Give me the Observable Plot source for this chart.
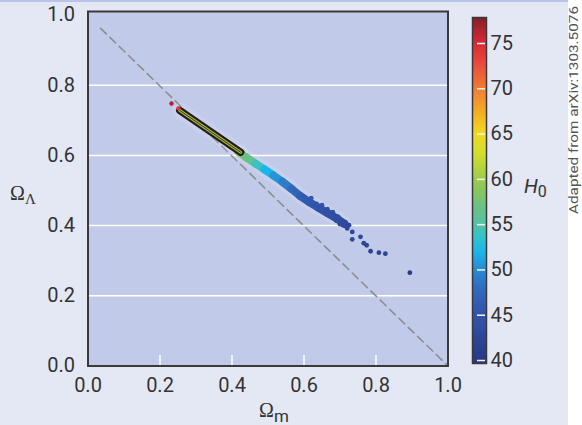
<!DOCTYPE html>
<html>
<head>
<meta charset="utf-8">
<script src="https://cdn.jsdelivr.net/npm/d3@7"></script>
<script src="https://cdn.jsdelivr.net/npm/@observablehq/plot@0.6"></script>
<style>
  html, body { margin: 0; padding: 0; background: #ffffff; }
  #wrap { position: relative; width: 582px; height: 425px; overflow: hidden; background: #ffffff; }
  #bg { position: absolute; left: 0; top: 0; width: 568px; height: 425px; background: #e4e8f5; border-top: 2px solid #b8c5e8; box-sizing: border-box; }
  #main, #cbar, #labels { position: absolute; top: 0; }
  #main { left: 0; }
  #cbar { left: 440px; }
  #labels { left: 0; pointer-events: none; }
</style>
</head>
<body>
<div id="wrap">
  <div id="bg"></div>
  <div id="main"></div>
  <div id="cbar"></div>
  <svg id="labels" width="582" height="425">
    <text x="259" y="417" font-family="Liberation Serif" font-size="20" fill="#333">Ω<tspan font-family="Roboto" font-size="17" dy="5">m</tspan></text>
    <text x="10" y="200" font-family="Liberation Serif" font-size="20" fill="#333">Ω<tspan font-size="15" dy="4">Λ</tspan></text>
    <text x="524" y="193" font-family="Roboto" font-style="italic" font-size="20" fill="#333">H<tspan font-style="normal" font-size="16" dy="4">0</tspan></text>
    <text transform="translate(578,214) rotate(-90)" font-family="Roboto" font-size="12.5" fill="#555" textLength="208" lengthAdjust="spacingAndGlyphs">Adapted from arXiv:1303.5076</text>
  </svg>
</div>
<script>
// ---- tick values ----
const xTicks = [0, 0.2, 0.4, 0.6, 0.8, 1.0];
const yTicks = [0, 0.2, 0.4, 0.6, 0.8, 1.0];
const gridY = [0.2, 0.4, 0.6, 0.8];
const xInnerTicks = [0.2, 0.4, 0.6, 0.8];
const cbTicks = [40, 45, 50, 55, 60, 65, 70, 75];

// ---- colour map for H0 ----
const h0Stops = [40, 42, 44, 46, 48, 50, 52, 53.5, 55, 57, 59, 61, 63, 65, 67, 69, 71, 73, 75, 76.5, 78];
const h0Colors = ["#293a86", "#2d4393", "#3050a6", "#3159b0", "#2e6ec0", "#2a8ad2", "#1ab6ea", "#32c2cc", "#55c2a4", "#6cc184", "#8cc85a", "#b0d23e", "#d6de2e", "#f2d822", "#f4b424", "#f28e30", "#ee6a36", "#e8463a", "#d82a34", "#b02230", "#7c1e26"];
const cbMin = 39.67, cbMax = 77.87;

// ---- flat-universe dashed line ----
const flatX = [0.035, 1.0];
const flatY = [0.962, 0.0];

// ---- dense band of samples (centre line) ----
const bandX = [0.418, 0.44, 0.465, 0.49, 0.515, 0.54, 0.565, 0.59, 0.615, 0.64, 0.665, 0.69, 0.712];
const bandY = [0.609, 0.594, 0.577, 0.560, 0.543, 0.525, 0.505, 0.484, 0.467, 0.451, 0.436, 0.421, 0.405];
const bandH = [58.5, 56.5, 54, 52, 50.5, 49, 47.5, 46.5, 45.5, 44.5, 44, 43.5, 43];

// ---- scattered samples ----
const dotX = [0.575, 0.585, 0.6, 0.605, 0.62, 0.625, 0.635, 0.645, 0.65, 0.66, 0.665, 0.675, 0.68, 0.69, 0.695, 0.70, 0.705, 0.715, 0.72, 0.725, 0.734, 0.734, 0.757, 0.766, 0.774, 0.785, 0.808, 0.826, 0.894];
const dotY = [0.500, 0.487, 0.482, 0.470, 0.478, 0.458, 0.462, 0.448, 0.458, 0.438, 0.447, 0.430, 0.438, 0.414, 0.425, 0.404, 0.412, 0.400, 0.392, 0.401, 0.382, 0.361, 0.368, 0.350, 0.344, 0.327, 0.323, 0.320, 0.266];
const dotH = [47, 46.5, 46, 45.5, 45.5, 45, 45, 44.5, 44.5, 44, 44, 44, 43.5, 43.5, 43.5, 43, 43, 43, 42.5, 42.5, 42.5, 42.5, 42.5, 42, 42, 42, 42, 42, 40.5];

// ---- red high-H0 samples ----
const redX = [0.232, 0.251];
const redY = [0.748, 0.734];
const redH = [76.5, 74];

// ---- Planck+WP contour (long axis) ----
const contourX = [0.255, 0.424];
const contourY = [0.728, 0.609];

const flat = flatX.map((x, i) => ({x, y: flatY[i]}));
const band = bandX.map((x, i) => ({x, y: bandY[i], h: bandH[i]}));
const dots = dotX.map((x, i) => ({x, y: dotY[i], h: dotH[i]}));
const reds = redX.map((x, i) => ({x, y: redY[i], h: redH[i]}));
const contour = contourX.map((x, i) => ({x, y: contourY[i]}));

const colorOpts = {type: "linear", domain: h0Stops, range: h0Colors};
const fmt = d3.format(".1f");
const baseStyle = {fontSize: "20px", fontFamily: "Roboto, sans-serif", color: "#333", background: "transparent", overflow: "visible"};

const main = Plot.plot({
  width: 568, height: 425,
  marginLeft: 87.5, marginRight: 120.5, marginTop: 11, marginBottom: 59.5,
  x: {domain: [0, 1]},
  y: {domain: [0, 1.01]},
  color: colorOpts,
  style: baseStyle,
  marks: [
    Plot.frame({fill: "#c2cae9"}),
    Plot.ruleY(gridY, {stroke: "#ffffff", strokeWidth: 1.5}),
    Plot.ruleX(xInnerTicks, {stroke: "#ffffff", strokeWidth: 1.5, insetTop: 344}),
    Plot.line(flat, {x: "x", y: "y", stroke: "#8e8e8e", strokeWidth: 1.6, strokeDasharray: "8,5"}),
    Plot.line(band, {x: "x", y: "y", stroke: "#ffffff", strokeOpacity: 0.12, strokeWidth: 15, strokeLinecap: "round"}),
    Plot.line(contour, {x: "x", y: "y", stroke: "#ffffff", strokeOpacity: 0.12, strokeWidth: 15, strokeLinecap: "round"}),
    Plot.line(band, {x: "x", y: "y", stroke: "h", z: null, strokeWidth: 8, strokeLinecap: "round"}),
    Plot.dot(dots, {x: "x", y: "y", fill: "h", r: 2.4}),
    Plot.line(contour, {x: "x", y: "y", stroke: "#1e1e1e", strokeWidth: 7.5, strokeLinecap: "round"}),
    Plot.line(contour, {x: "x", y: "y", stroke: "#aab43a", strokeWidth: 3.2, strokeLinecap: "round"}),
    Plot.line(contour, {x: "x", y: "y", stroke: "#3a3a20", strokeWidth: 1}),
    Plot.dot(reds, {x: "x", y: "y", fill: "h", r: 2.2}),
    Plot.frame({stroke: "#3a3a3a", strokeWidth: 2}),
    Plot.axisX({ticks: xTicks, tickSize: 0, tickPadding: 12, tickFormat: fmt, label: null}),
    Plot.axisY({ticks: yTicks, tickSize: 0, tickPadding: 13, tickFormat: fmt, label: null})
  ]
});
document.getElementById("main").appendChild(main);

// colour bar ramp (legend swatches)
const rampStep = 0.2;
const ramp = d3.range(cbMin, cbMax, rampStep);

const cbar = Plot.plot({
  width: 128, height: 425,
  marginLeft: 32, marginRight: 82, marginTop: 17, marginBottom: 62,
  x: {domain: [0, 1], axis: null},
  y: {domain: [cbMin, cbMax]},
  color: colorOpts,
  style: baseStyle,
  marks: [
    Plot.rect(ramp, {x1: 0, x2: 1, y1: d => d, y2: d => Math.min(d + rampStep * 1.5, cbMax), fill: d => d + rampStep / 2}),
    Plot.ruleY(cbTicks, {stroke: "#f4f4f4", strokeWidth: 1.5, insetLeft: 5, insetRight: 1}),
    Plot.frame({stroke: "#3a3a3a", strokeWidth: 1.5}),
    Plot.axisY({anchor: "right", ticks: cbTicks, tickSize: 0, tickPadding: 4, label: null})
  ]
});
document.getElementById("cbar").appendChild(cbar);
</script>
</body>
</html>
